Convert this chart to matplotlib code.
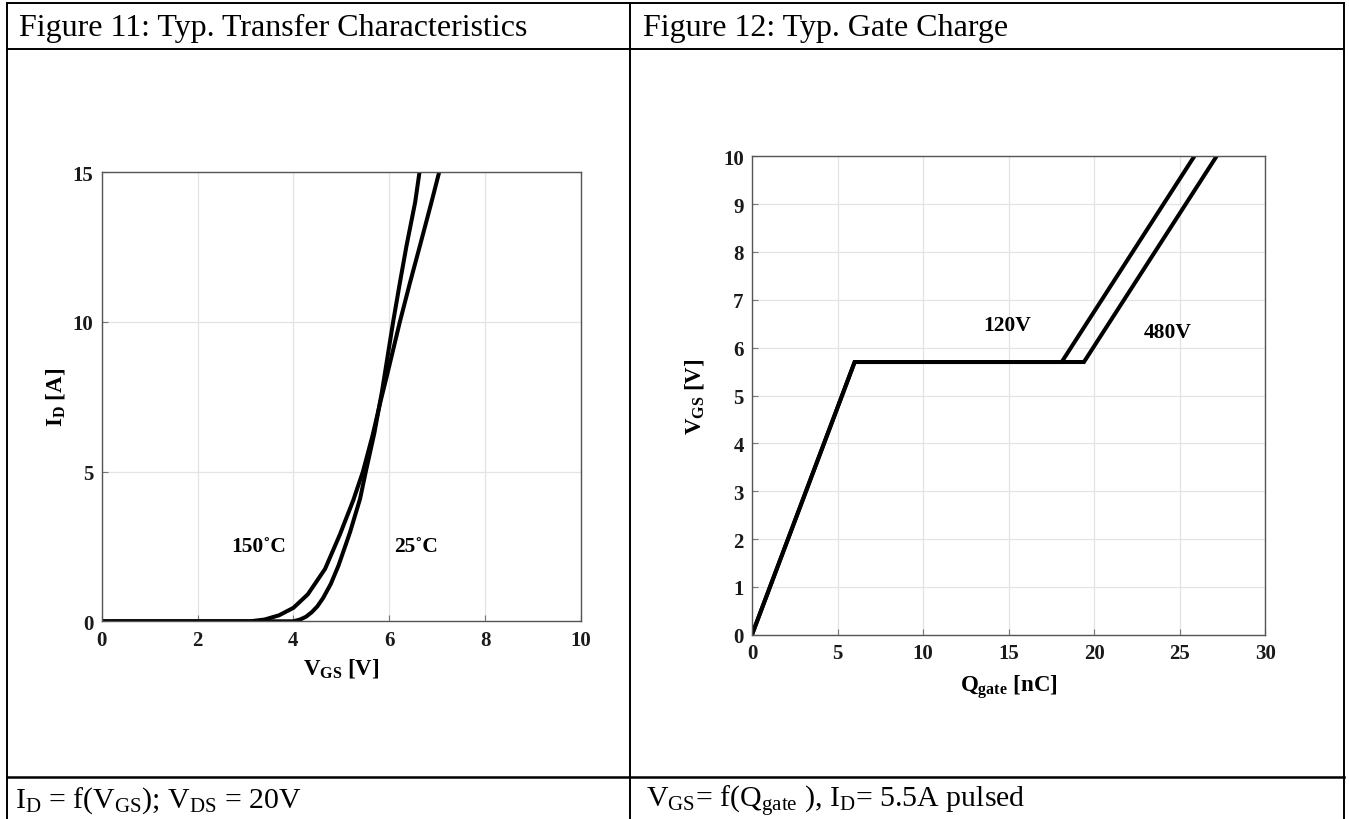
#!/usr/bin/env python
# -*-coding:utf-8-*-

"""
Typ. transfer characteristics and typ. gate charge, datasheet table layout
"""

import matplotlib
matplotlib.use("Agg")
import matplotlib.pyplot as plt
from matplotlib.lines import Line2D

# Figure 11: I_D vs V_GS
vgs_150 = [0, 2.5, 3.1, 3.4, 3.7, 4.0, 4.3, 4.66, 4.97, 5.25, 5.45, 5.65, 5.81, 5.95,
           6.1, 6.22, 6.43, 6.64, 6.88, 7.04]
id_150 = [0, 0, 0.0, 0.06, 0.2, 0.45, 0.9, 1.75, 2.9, 4.05, 5.0, 6.2, 7.3, 8.2,
          9.2, 10.0, 11.3, 12.55, 14.0, 15.0]

vgs_25 = [0, 3.5, 4.0, 4.14, 4.26, 4.38, 4.5, 4.62, 4.78, 4.94, 5.18, 5.39, 5.51, 5.69,
          5.85, 6.08, 6.22, 6.36, 6.54, 6.63]
id_25 = [0, 0, 0.0, 0.06, 0.15, 0.3, 0.5, 0.78, 1.25, 1.86, 2.97, 4.09, 5.0, 6.3,
         7.7, 10.0, 11.3, 12.55, 14.0, 15.0]

# Figure 12: V_GS vs Q_gate
q_120 = [0, 6.0, 18.1, 25.85]
v_120 = [0, 5.7, 5.7, 10.0]
q_480 = [0, 6.0, 19.4, 27.15]
v_480 = [0, 5.7, 5.7, 10.0]

W, H = 1349, 820

plt.rcParams['font.family'] = ['Liberation Serif', 'DejaVu Serif']
plt.rcParams['mathtext.fontset'] = 'custom'
plt.rcParams['mathtext.rm'] = 'Liberation Serif'
plt.rcParams['mathtext.it'] = 'Liberation Serif:italic'
plt.rcParams['mathtext.bf'] = 'Liberation Serif:bold'

fig = plt.figure(figsize=(W / 100, H / 100), dpi=100)


def px_line(x0, y0, x1, y1, lw=1.4):
    # pixel coords, y from top
    fig.add_artist(Line2D([x0 / W, x1 / W], [1 - y0 / H, 1 - y1 / H],
                          color='black', lw=lw, transform=fig.transFigure))


# table frame
px_line(6.5, 4, 1344, 4)
px_line(6.5, 50, 1344, 50)
px_line(6.5, 777.5, 1344, 777.5, lw=1.8)
px_line(6.5, 4, 6.5, 820)
px_line(630, 4, 630, 820)
px_line(1344, 4, 1344, 820)

fig.text(19 / W, 1 - 36 / H, "Figure 11: Typ. Transfer Characteristics",
         fontsize=23, ha='left', va='baseline')
fig.text(643 / W, 1 - 36 / H, "Figure 12: Typ. Gate Charge",
         fontsize=23, ha='left', va='baseline')
fig.text(15 / W, 1 - 808 / H, r"I$_\mathrm{D}$ = f(V$_\mathrm{GS}$); V$_\mathrm{DS}$ = 20V",
         fontsize=21.5, ha='left', va='baseline')
fig.text(646 / W, 1 - 808 / H, r"V$_\mathrm{GS}$= f(Q$_\mathrm{gate}$ ), I$_\mathrm{D}$= 5.5A pulsed",
         fontsize=21.5, ha='left', va='baseline')


def style_axes(ax):
    for s in ax.spines.values():
        s.set_color('#555555')
        s.set_linewidth(1.0)
    ax.grid(True, color='#e3e3e3', lw=0.9)
    ax.set_axisbelow(True)
    ax.tick_params(direction='in', length=4, color='#777777', labelsize=15, pad=6,
                   top=False, right=False)
    for lab in ax.get_xticklabels() + ax.get_yticklabels():
        lab.set_fontweight('bold')
        lab.set_color('#1a1a1a')


# left chart
ax1 = fig.add_axes([101.7 / W, 1 - 622.3 / H, (581 - 101.7) / W, (622.3 - 173.3) / H])
ax1.plot(vgs_150, id_150, color='black', lw=2.9, solid_capstyle='butt', solid_joinstyle='round')
ax1.plot(vgs_25, id_25, color='black', lw=2.9, solid_capstyle='butt', solid_joinstyle='round')
ax1.set_xlim(0, 10)
ax1.set_ylim(0, 15)
ax1.set_xticks([0, 2, 4, 6, 8, 10])
ax1.set_yticks([0, 5, 10, 15])
style_axes(ax1)
ax1.text(3.27, 2.5, "150˚C", fontsize=15.5, fontweight='bold', ha='center', va='center')
ax1.text(6.55, 2.5, "25˚C", fontsize=15.5, fontweight='bold', ha='center', va='center')
ax1.set_xlabel(r"V$_\mathbf{GS}$ [V]", fontsize=16.5, fontweight='bold')
ax1.set_ylabel(r"I$_\mathbf{D}$ [A]", fontsize=16.5, fontweight='bold')
ax1.xaxis.set_label_coords(0.5, -0.078)
ax1.yaxis.set_label_coords(-0.072, 0.5)

# right chart
ax2 = fig.add_axes([752 / W, 1 - 635.7 / H, (1265.3 - 752) / W, (635.7 - 157.3) / H])
ax2.plot(q_120, v_120, color='black', lw=2.9, solid_joinstyle='miter')
ax2.plot(q_480, v_480, color='black', lw=2.9, solid_joinstyle='miter')
ax2.set_xlim(0, 30)
ax2.set_ylim(0, 10)
ax2.set_xticks([0, 5, 10, 15, 20, 25, 30])
ax2.set_yticks(list(range(0, 11)))
style_axes(ax2)
ax2.text(14.9, 6.47, "120V", fontsize=15.5, fontweight='bold', ha='center', va='center')
ax2.text(24.3, 6.32, "480V", fontsize=15.5, fontweight='bold', ha='center', va='center')
ax2.set_xlabel(r"Q$_\mathbf{gate}$ [nC]", fontsize=16.5, fontweight='bold')
ax2.set_ylabel(r"V$_\mathbf{GS}$ [V]", fontsize=16.5, fontweight='bold')
ax2.xaxis.set_label_coords(0.5, -0.078)
ax2.yaxis.set_label_coords(-0.09, 0.5)

fig.savefig("out.png", dpi=100)
